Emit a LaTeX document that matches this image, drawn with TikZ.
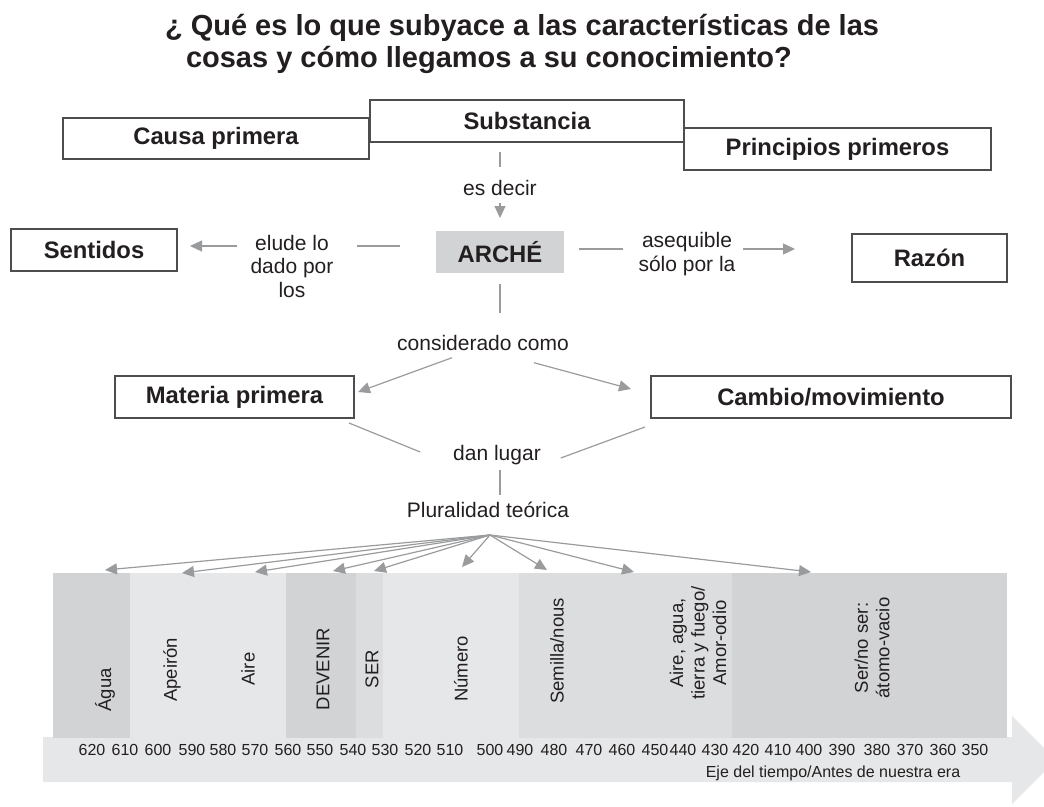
\documentclass[tikz,border=0pt]{standalone}
\usepackage{fontspec}
\setmainfont{Liberation Sans}
\usetikzlibrary{arrows.meta}
\definecolor{txt}{HTML}{231F20}
\definecolor{connc}{HTML}{9A9B9D}
\definecolor{boxline}{HTML}{4D4D4F}
\definecolor{bandD}{HTML}{D1D3D4}
\definecolor{bandL}{HTML}{E6E7E8}
\definecolor{bandM}{HTML}{DCDDDE}
\begin{document}
\begin{tikzpicture}[x=1pt,y=-1pt,
  every node/.style={text=txt, inner sep=0pt, outer sep=0pt},
  titlef/.style={font=\fontsize{29}{32}\selectfont\bfseries},
  cbox/.style={draw=boxline, fill=white, line width=1.1pt, font=\fontsize{23.8}{27}\selectfont\bfseries},
  archebox/.style={fill=bandD, font=\fontsize{23.8}{27}\selectfont\bfseries},
  linklab/.style={font=\fontsize{21}{23.5}\selectfont, align=center},
  bandlab/.style={font=\fontsize{18.5}{21.5}\selectfont, align=center, rotate=90},
  yrlab/.style={font=\fontsize{16}{18}\selectfont},
  ejelab/.style={font=\fontsize{16}{18}\selectfont},
  conn/.style={draw=connc, line width=1.2pt},
  arr/.style={conn, -{Triangle[width=11pt,length=12pt]}, color=connc}
]
\useasboundingbox (0,0) rectangle (1044,806);
\clip (0,0) rectangle (1044,806);

% title
\node[titlef, anchor=base west] (title1) at (165,35) {¿ Qué es lo que subyace a las características de las};
\node[titlef, anchor=base west] (title2) at (186,67) {cosas y cómo llegamos a su conocimiento?};

% top boxes
\node[cbox, minimum width=306pt, minimum height=41pt] (causa) at (216,138.5) {Causa primera};
\node[cbox, minimum width=314pt, minimum height=42pt] (subst) at (527,121) {Substancia};
\node[cbox, minimum width=307pt, minimum height=42pt] (princ) at (837.5,149) {Principios primeros};

% middle row
\node[cbox, minimum width=166pt, minimum height=42pt] (sentidos) at (94,250) {Sentidos};
\node[archebox, minimum width=128pt, minimum height=42pt] (arche) at (500,252) {ARCHÉ};
\node[cbox, minimum width=155pt, minimum height=48pt] (razon) at (929.5,258) {Razón};

\node[linklab] (esdecir) at (500,188) {es decir};
\node[linklab] (elude) at (292,266) {elude lo\\dado por\\los};
\node[linklab] (asequible) at (687,254) {asequible\\sólo por la};

% Substancia -> ARCHE
\draw[conn, shorten <=10pt, shorten >=64pt] (arche.north |- subst.south) -- (arche.north);
\draw[arr, shorten <=61pt, shorten >=13pt] (arche.north |- subst.south) -- (arche.north);
% ARCHE -> Sentidos
\draw[conn, shorten <=36pt, shorten >=180pt] ([yshift=6pt]arche.west) -- ([yshift=4pt]sentidos.east);
\draw[arr, shorten <=199pt, shorten >=13pt] ([yshift=6pt]arche.west) -- ([yshift=4pt]sentidos.east);
% ARCHE -> Razon
\draw[conn, shorten <=15pt, shorten >=229pt] ([yshift=3pt]arche.east) -- ([yshift=9pt]razon.west);
\draw[arr, shorten <=179pt, shorten >=57pt] ([yshift=3pt]arche.east) -- ([yshift=9pt]razon.west);

% considerado como
\node[linklab] (consid) at (483,343) {considerado como};
\node[cbox, minimum width=239pt, minimum height=42pt] (materia) at (234.5,397) {Materia primera};
\node[cbox, minimum width=360pt, minimum height=42pt] (cambio) at (831,397) {Cambio/movimiento};
\draw[conn, shorten <=11pt, shorten >=22pt] (arche.south) -- (arche.south |- consid.north);
\draw[arr] ([xshift=-31pt,yshift=-7pt]consid.south) -- ([xshift=4pt,yshift=5pt]materia.east);
\draw[arr] ([xshift=51pt,yshift=-12pt]consid.south) -- ([xshift=-20pt,yshift=8pt]cambio.west);

% dan lugar
\node[linklab] (dan) at (497,455) {dan lugar};
\draw[conn] ([xshift=-5pt,yshift=-5pt]materia.south east) -- ([xshift=-33pt,yshift=3pt]dan.west);
\draw[conn] ([xshift=-6pt,yshift=-9pt]cambio.south west) -- ([xshift=20pt,yshift=-3pt]dan.east);
\node[linklab] (plural) at (488,510) {Pluralidad teórica};
\draw[conn, shorten <=5pt, shorten >=7pt] ([xshift=3pt]dan.south) -- ([xshift=12pt]plural.north);

% timeline arrow
\fill[bandL] (43,737) -- (1012,737) -- (1012,716) -- (1056,760) -- (1012,804) -- (1012,782) -- (43,782) -- cycle;

% bands
\fill[bandD] (53,573) rectangle (130,738);
\fill[bandL] (130,573) rectangle (286,738);
\fill[bandD] (286,573) rectangle (356,738);
\fill[bandM] (356,573) rectangle (383,738);
\fill[bandL] (383,573) rectangle (519,738);
\fill[bandM] (519,573) rectangle (732,738);
\fill[bandD] (732,573) rectangle (1007,738);

% band labels
\node[bandlab] (lagua) at (105,690) {Água};
\node[bandlab] (lapeiron) at (172,670) {Apeirón};
\node[bandlab] (laire) at (248,669) {Aire};
\node[bandlab] (ldevenir) at (323,669) {DEVENIR};
\node[bandlab] (lser) at (372,669) {SER};
\node[bandlab] (lnumero) at (461,669) {Número};
\node[bandlab] (lsemilla) at (557,651) {Semilla/nous};
\node[bandlab] (lelem) at (698,643) {Aire, agua,\\tierra y fuego/\\Amor-odio};
\node[bandlab] (latomo) at (872,648) {Ser/no ser:\\átomo-vacio};

% fan of arrows
\coordinate (fan) at (490,535);
\coordinate (tA) at (105,570);
\coordinate (tB) at (182,573);
\coordinate (tC) at (255,572);
\coordinate (tD) at (333,571);
\coordinate (tE) at (374,571);
\coordinate (tF) at (462,567);
\coordinate (tG) at (547,570);
\coordinate (tH) at (634,572);
\coordinate (tI) at (811,572);
\foreach \t in {tA,tB,tC,tD,tE,tF,tG,tH,tI}
  \draw[arr] (fan) -- (\t);

% years
\foreach \yr/\xx in {620/92,610/125,600/158,590/192,580/223,570/255,560/288,550/320,540/353,530/385,520/418,510/450,500/490,490/520,480/554,470/589,460/622,450/655,440/683,430/715,420/746,410/778,400/809,390/842,380/877,370/910,360/943,350/975}
  \node[yrlab] (y\yr) at (\xx,750) {\yr};
\node[ejelab] (eje) at (833,773) {Eje del tiempo/Antes de nuestra era};
\end{tikzpicture}
\end{document}
